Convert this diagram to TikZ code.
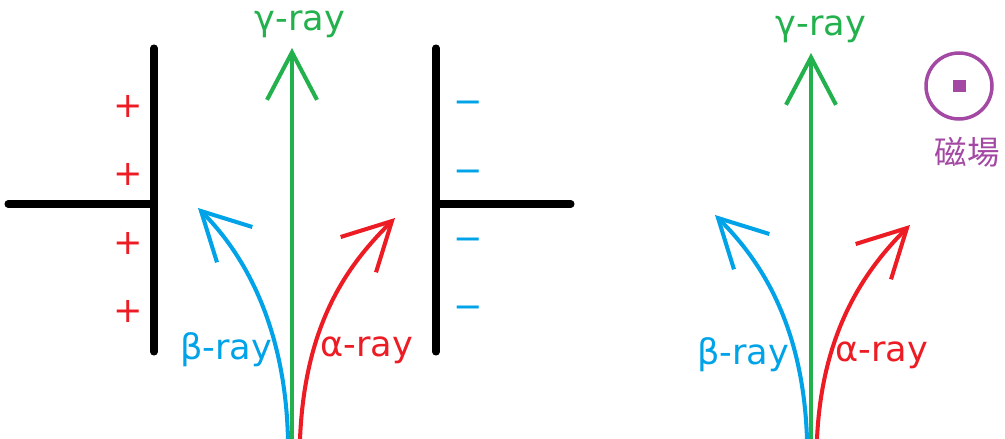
\documentclass[tikz,border=0pt]{standalone}
\usepackage{fontspec}
\setmainfont{DejaVu Sans}
\newfontfamily\cjkfont{Noto Sans CJK TC}
\usepackage{xcolor}
\usetikzlibrary{arrows.meta, positioning}
\definecolor{rayred}{HTML}{ED1C24}
\definecolor{raygreen}{HTML}{22B14C}
\definecolor{rayblue}{HTML}{00A2E8}
\definecolor{fieldpurple}{HTML}{A349A4}

\begin{document}
\begin{tikzpicture}[
    x=0.02cm, y=-0.02cm,
    font=\fontsize{20}{22}\selectfont,
    plate/.style={line width=4pt, line cap=round},
    ray/.style={line width=2.3pt, line cap=round,
                -{Straight Barb[length=9.5mm, width=10mm, line width=2.3pt]}},
    poscharge/.style={text=rayred, inner sep=0pt},
    negcharge/.style={text=rayblue, inner sep=0pt},
  ]
  \useasboundingbox (0,0) rectangle (1005,439);

  % electric field: two plates
  \draw[plate] (154,48) -- (154,352);
  \draw[plate] (8,204) -- (154,204);
  \draw[plate] (436,48) -- (436,352);
  \draw[plate] (436,204) -- (571,204);

  \node[poscharge] (plusA) at (128,106) {+};
  \node[poscharge] (plusB) at (128,174) {+};
  \node[poscharge] (plusC) at (128,243) {+};
  \node[poscharge] (plusD) at (128,311) {+};
  \node[negcharge] (minusA) at (468,107) {−};
  \node[negcharge] (minusB) at (468,176) {−};
  \node[negcharge] (minusC) at (468,244) {−};
  \node[negcharge] (minusD) at (468,312) {−};

  \coordinate (srcBL) at (288,439);
  \coordinate (srcGL) at (292,439);
  \coordinate (srcAL) at (300,439);
  \coordinate (tipGL) at (292,48);
  \coordinate (tipBL) at (198,208);
  \coordinate (tipAL) at (395,218);

  \draw[ray, raygreen] (srcGL) -- (tipGL);
  \draw[ray, rayblue] (srcBL) .. controls (285,320) and (240,250) .. (tipBL);
  \draw[ray, rayred] (srcAL) .. controls (305,320) and (350,263) .. (tipAL);

  \node[text=raygreen] (gammaL) at (300,24) {γ-ray};
  \node[text=rayblue] (betaL) at (226,350) {β-ray};
  \node[text=rayred] (alphaL) at (367,350) {α-ray};

  % magnetic field
  \coordinate (srcBR) at (807,439);
  \coordinate (srcGR) at (811,439);
  \coordinate (srcAR) at (817,439);
  \coordinate (tipGR) at (811,53);
  \coordinate (tipBR) at (715,215);
  \coordinate (tipAR) at (910,225);

  \draw[ray, raygreen] (srcGR) -- (tipGR);
  \draw[ray, rayblue] (srcBR) .. controls (803,320) and (757,257) .. (tipBR);
  \draw[ray, rayred] (srcAR) .. controls (822,330) and (866,269) .. (tipAR);

  \node[text=raygreen] (gammaR) at (821,29) {γ-ray};
  \node[text=rayblue] (betaR) at (743,355) {β-ray};
  \node[text=rayred] (alphaR) at (882,355) {α-ray};

  \node[draw=fieldpurple, circle, line width=2pt, minimum size=1.32cm,
        inner sep=0pt] (field) at (959,86) {};
  \node[fill=fieldpurple, minimum size=0.26cm, inner sep=0pt] (fieldDot)
        at (field.center) {};
  \node[text=fieldpurple, font=\cjkfont\fontsize{18.5}{20}\selectfont]
        (fieldLabel) at (967,152) {磁場};
\end{tikzpicture}
\end{document}
